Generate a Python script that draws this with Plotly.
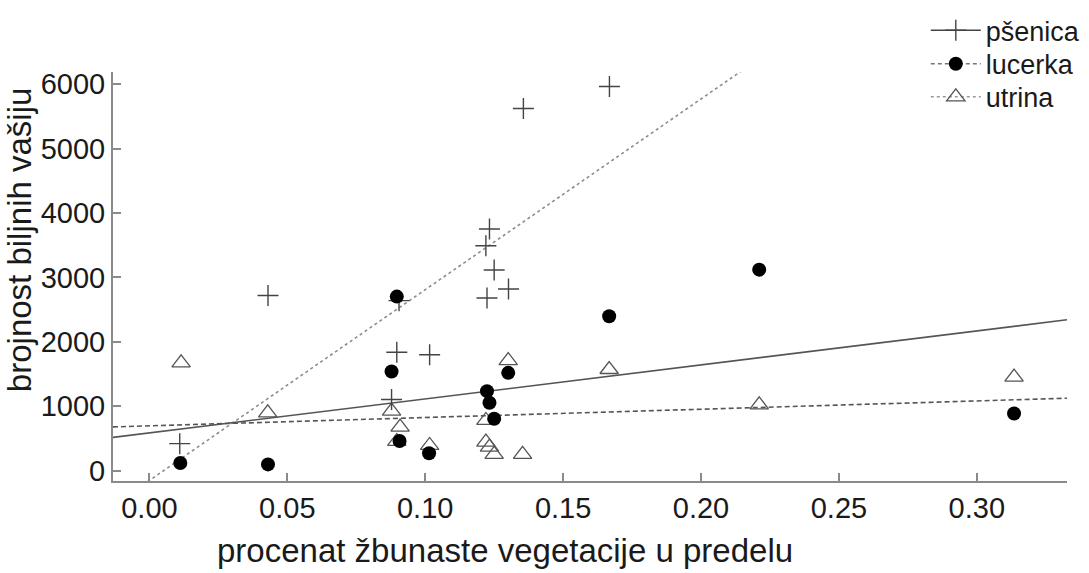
import numpy as np
import plotly.graph_objects as go

# share of shrub vegetation in the landscape (x) and aphid counts (y) per crop
psenica_x = [0.011, 0.043, 0.0878, 0.0897, 0.0905, 0.1016, 0.1220, 0.1224, 0.1233, 0.1250, 0.1302, 0.1356, 0.1668]
psenica_y = [420, 2720, 1105, 1840, 2640, 1800, 3493, 2682, 3752, 3116, 2822, 5623, 5964]

lucerka_x = [0.0112, 0.043, 0.0878, 0.0897, 0.0907, 0.1014, 0.1224, 0.1233, 0.1250, 0.1301, 0.1667, 0.2211, 0.3135]
lucerka_y = [119, 98, 1540, 2703, 460, 270, 1235, 1054, 806, 1519, 2398, 3121, 888]

utrina_x = [0.0115, 0.0429, 0.0878, 0.0897, 0.0909, 0.1016, 0.1220, 0.1220, 0.1233, 0.1250, 0.1301, 0.1353, 0.1667, 0.2211, 0.3135]
utrina_y = [1674, 899, 926, 454, 677, 392, 780, 445, 367, 253, 1710, 253, 1571, 1023, 1453]

series_names = ["pšenica", "lucerka", "utrina"]

x_ticks = [0.00, 0.05, 0.10, 0.15, 0.20, 0.25, 0.30]
y_ticks = [0, 1000, 2000, 3000, 4000, 5000, 6000]
X_RANGE = [-0.0132, 0.3327]
Y_RANGE = [-160, 6190]

FONT = "Liberation Sans, Arial, sans-serif"
TEXT = "#1a1a1a"
AXIS = "#8a8a8a"

cross = dict(symbol="cross-thin", size=15, color="#444", line=dict(width=1.4, color="#444"))
dot = dict(symbol="circle", size=14, color="#000", line=dict(width=0))
tri = dict(symbol="triangle-up-open", size=16, color="#555", line=dict(width=1.3, color="#555"))

fig = go.Figure()

# least-squares trend line of each series across the whole axis
def trend(xs, ys):
    slope, intercept = np.polyfit(xs, ys, 1)
    xl = np.array(X_RANGE)
    return xl, intercept + slope * xl

for xs, ys, line in [
    (psenica_x, psenica_y, dict(color="#8c8c8c", width=1.6, dash="dot")),
    (lucerka_x, lucerka_y, dict(color="#555", width=1.6, dash="solid")),
    (utrina_x, utrina_y, dict(color="#555", width=1.6, dash="5px,3px")),
]:
    xl, yl = trend(xs, ys)
    fig.add_trace(go.Scatter(x=xl, y=yl, mode="lines", line=line,
                             showlegend=False, hoverinfo="skip"))

fig.add_trace(go.Scatter(x=utrina_x, y=utrina_y, mode="markers", marker=tri, showlegend=False))
fig.add_trace(go.Scatter(x=psenica_x, y=psenica_y, mode="markers", marker=cross, showlegend=False))
fig.add_trace(go.Scatter(x=lucerka_x, y=lucerka_y, mode="markers", marker=dot, showlegend=False))

# legend keys, one legend box per row
legend_lines = [
    dict(color="#444", width=1.5, dash="solid"),
    dict(color="#777", width=1.5, dash="4px,3px"),
    dict(color="#999", width=1.5, dash="dot"),
]
legend_ids = ["legend", "legend2", "legend3"]
legend_tops = [1.161, 1.079, 0.998]
for name, mk, ln, lid in zip(series_names, [cross, dot, tri], legend_lines, legend_ids):
    fig.add_trace(go.Scatter(x=[None], y=[None], mode="lines+markers", name=name,
                             marker=mk, line=ln, legend=lid))

legend_style = dict(x=0.852, xanchor="left", yanchor="top",
                    font=dict(family=FONT, size=27, color=TEXT),
                    bgcolor="rgba(0,0,0,0)", itemwidth=50)

axis_common = dict(
    showline=True, linecolor=AXIS, linewidth=2, mirror=False,
    ticks="inside", ticklen=8, tickwidth=1.5, tickcolor=AXIS,
    showgrid=False, zeroline=False,
    tickfont=dict(family=FONT, size=29, color=TEXT),
)

fig.update_layout(
    width=1089, height=573,
    margin=dict(l=113, r=22, t=72, b=92, autoexpand=False),
    paper_bgcolor="white", plot_bgcolor="white",
    font=dict(family=FONT, color=TEXT),
    xaxis=dict(range=X_RANGE, tickvals=x_ticks, tickformat=".2f", **axis_common),
    yaxis=dict(range=Y_RANGE, tickvals=y_ticks, ticklabelstandoff=0, **axis_common),
    legend=dict(y=legend_tops[0], **legend_style),
    legend2=dict(y=legend_tops[1], **legend_style),
    legend3=dict(y=legend_tops[2], **legend_style),
    annotations=[
        dict(text="procenat žbunaste vegetacije u predelu", xref="paper", yref="paper",
             x=0.411, y=-0.169, xanchor="center", yanchor="middle", showarrow=False,
             font=dict(family=FONT, size=33, color=TEXT)),
        dict(text="brojnost biljnih vašiju", xref="paper", yref="paper",
             x=-0.0985, y=0.589, xanchor="center", yanchor="middle", showarrow=False,
             textangle=-90, font=dict(family=FONT, size=33, color=TEXT)),
    ],
)

fig.write_html("out.html")
